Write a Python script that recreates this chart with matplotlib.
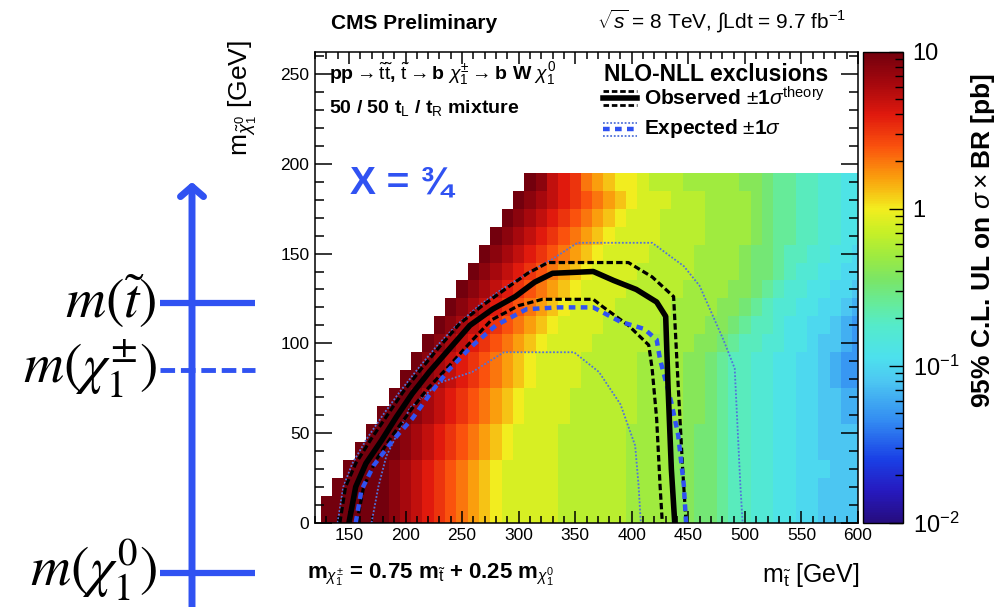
import numpy as np
import matplotlib
matplotlib.use('Agg')
import matplotlib.pyplot as plt
from matplotlib.colors import LinearSegmentedColormap, LogNorm
from matplotlib.ticker import MultipleLocator

plt.rcParams['font.family'] = ['Liberation Sans', 'DejaVu Sans']
plt.rcParams['mathtext.fontset'] = 'custom'
plt.rcParams['mathtext.rm'] = 'Liberation Sans'
plt.rcParams['mathtext.it'] = 'Liberation Sans:italic'
plt.rcParams['mathtext.bf'] = 'Liberation Sans:bold'

# 95% CL upper limit per 10 GeV cell, one letter per cell
# A = 10^-1.5 pb, P = 1 pb, Z = 10 pb (0.1 in log10 per letter), '.' = forbidden
stop_mass = np.arange(120, 601, 10)
lsp_mass = np.arange(0, 191, 10)
limit_rows = [
    ".ZZZZZZYXWVUTSRQPOOOOONNNNNNMMMMLLKKJIIHHGGFFEEEE",
    ".ZZZZZZYXWVUTSRQPOOOOONNNNNNMMMMLLKKJIIHHGGFFEEEE",
    "..ZZZZZYXWVUTSRQPOOOOONNNNNNMMMMLLKKJIIHHGGFFEEEE",
    "...ZZZZYXWVUTSRQPOOOOONNNNNNMMMMLLKKJIIHHGGFFFEEE",
    "....ZZZZYXWVUTSRQPOOOONNNNNNMMMMLLKKJIIHHGGFFEEEE",
    ".....ZZZYXWVUTSRQPOOOONNNNNNMMMMLLKKJIIHHGGFFEEEE",
    "......ZZZYXWVUTSRQPOOOONNNNNNMMMMLLKJIIHHGGFFEEDD",
    ".......ZZYXWVUTSRQPOOOONNNNNNMMMMLLKJIIHHGGFFEEDD",
    "........ZZYXWVUTSRQPOOOONNNNNMMMMLLKJIIHHGGFFEDCC",
    ".........ZYXWVUTSRQPOOOONNNNNMMMMLLKJIIHHGGFFEDCC",
    "..........ZYXWVUTSRQPOOOONNNNNMMMMLLKJIIHHGGFEEDC",
    "...........ZYXWVUTSRQPOOOONNNNNMMMMLLKJIIHGGFFEDC",
    "............ZYXWVUTSRQPOOOONNNNNMMMMLLKJIHHGGFFED",
    ".............ZYXWVUTSRQPOOOONNNNNMMMMLLKJIHHGGFFE",
    "..............ZYXWVUTSRQPOOOONNNNNMMMMLKKJIHHGGFF",
    "...............ZYXWVUTSRQPOOOONNNNMMMMLKKJIIHHGGF",
    "................ZYXWVUTSRQPOOOONNNNMMMMLKJJIIHHGG",
    ".................ZYXWVUTSRQPOOONNNNMMMMLKJJIIHHGG",
    "..................ZYXWVUTSRQPOOONNNMMMMLKJJIIHHGG",
    "...................ZYWVUSRQPPONNNMMMMMLLKJJIIHHGG",
]

# exclusion contours (m_stop, m_lsp) in GeV
obs_x = [150, 156, 165, 179, 192, 206, 221, 239, 257, 277, 297, 314, 330, 366, 384, 404, 422, 430, 432, 435, 438]
obs_y = [0, 20, 33, 46, 59, 72, 84, 97, 110, 119, 126, 134, 139, 140, 135, 130, 123, 115, 77, 30, 0]
obs_up_x = [142, 147, 156, 170, 184, 198, 213, 230, 248, 268, 290, 308, 326, 366, 397, 418, 437, 441, 445, 448]
obs_up_y = [0, 20, 33, 47, 60, 73, 85, 98, 111, 121, 131, 139, 145, 145, 145, 137, 126, 77, 30, 0]
obs_dn_x = [157, 163, 174, 190, 205, 220, 238, 258, 276, 300, 321, 366, 373, 397, 415, 418, 422, 425, 427]
obs_dn_y = [0, 20, 35, 50, 63, 75, 87, 101, 113, 121, 124.5, 124.5, 121, 110, 99, 86, 58, 21, 0]
exp_x = [156, 161, 172, 189, 206, 222, 238, 258, 280, 307, 335, 366, 390, 411, 422, 425, 435, 441, 446, 448]
exp_y = [0, 18, 32, 46, 58, 72, 85, 98, 110, 119, 120, 120, 112, 108, 102, 91, 67, 49, 21, 0]
exp_up_x = [140, 145, 153, 166, 180, 195, 210, 227, 245, 265, 285, 310, 330, 352, 418, 446, 460, 481, 491, 496, 498]
exp_up_y = [0, 20, 33, 47, 60, 73, 85, 98, 110, 121, 130, 140, 147, 156, 156, 143, 132, 102, 86, 21, 0]
exp_dn_x = [170, 176, 183, 204, 230, 259, 287, 349, 371, 390, 403, 406, 408]
exp_dn_y = [0, 20, 37, 64, 78, 84, 95, 95, 84, 66, 43, 21, 0]

blue = (0.19, 0.32, 0.95)
dotblue = (0.32, 0.45, 0.85)

grid = np.array([[np.nan if c == '.' else 10 ** (-1.5 + 0.1 * (ord(c) - 65)) for c in row]
                 for row in limit_rows])

stops = [(-2.0, (0.15, 0.05, 0.50)), (-1.8, (0.15, 0.10, 0.75)), (-1.6, (0.10, 0.25, 0.90)),
         (-1.35, (0.20, 0.55, 0.95)), (-1.1, (0.30, 0.78, 0.95)), (-0.95, (0.30, 0.88, 0.93)),
         (-0.75, (0.33, 0.92, 0.80)), (-0.6, (0.40, 0.92, 0.60)), (-0.45, (0.48, 0.90, 0.40)),
         (-0.3, (0.62, 0.92, 0.25)), (-0.15, (0.78, 0.94, 0.15)), (0.0, (0.95, 0.93, 0.12)),
         (0.2, (0.98, 0.62, 0.05)), (0.4, (0.98, 0.32, 0.05)), (0.6, (0.88, 0.10, 0.05)),
         (0.8, (0.65, 0.03, 0.05)), (1.0, (0.45, 0.00, 0.05))]
cmap = LinearSegmentedColormap.from_list('root', [((v + 2) / 3, c) for v, c in stops])

fig = plt.figure(figsize=(10, 6.07), dpi=100)
ax = fig.add_axes([0.315, 0.1389, 0.543, 0.7759])

xe = np.append(stop_mass - 5, stop_mass[-1] + 5)
ye = np.append(lsp_mass - 5, lsp_mass[-1] + 5)
mesh = ax.pcolormesh(xe, ye, grid, cmap=cmap, norm=LogNorm(0.01, 10), antialiased=False, zorder=0)

ax.plot(exp_up_x, exp_up_y, color=dotblue, lw=1.3, ls=(0, (1, 1)))
ax.plot(exp_dn_x, exp_dn_y, color=dotblue, lw=1.3, ls=(0, (1, 1)))
ax.plot(obs_up_x, obs_up_y, color='k', lw=2.3, ls=(0, (2, 1)))
ax.plot(obs_dn_x, obs_dn_y, color='k', lw=2.3, ls=(0, (2, 1)))
ax.plot(exp_x, exp_y, color=blue, lw=3.2, ls=(0, (1.5, 1.2)))
ax.plot(obs_x, obs_y, color='k', lw=4)

ax.set_xlim(120, 600)
ax.set_ylim(0, 262.5)
ax.xaxis.set_major_locator(MultipleLocator(50))
ax.xaxis.set_minor_locator(MultipleLocator(10))
ax.yaxis.set_major_locator(MultipleLocator(50))
ax.yaxis.set_minor_locator(MultipleLocator(10))
ax.tick_params(axis='x', which='major', direction='in', length=8.6, width=1.1, top=True, labelsize=12.5, pad=4)
ax.tick_params(axis='x', which='minor', direction='in', length=4.7, width=1.1, top=True)
ax.tick_params(axis='y', which='major', direction='in', length=12, width=1.1, right=True, labelsize=12.5, pad=4)
ax.tick_params(axis='y', which='minor', direction='in', length=6.5, width=1.1, right=True)
for s in ax.spines.values():
    s.set_linewidth(1.1)

cax = fig.add_axes([0.863, 0.1389, 0.040, 0.7759])
cb = fig.colorbar(mesh, cax=cax)
cb.outline.set_linewidth(1)
cb.set_ticks([0.01, 0.1, 1, 10])
cb.set_ticklabels(['10$^{-2}$', '10$^{-1}$', '1', '10'])
cax.tick_params(which='major', direction='in', length=10, width=1, labelsize=17, pad=7)
cax.tick_params(which='minor', direction='in', length=6, width=1)
fig.text(0.983, 1 - 240 / 607, r'95% C.L. UL on $\sigma\times$BR [pb]', rotation=90, fontweight='bold',
         fontsize=19, ha='center', va='center')

fig.text(0.331, 1 - 29 / 607, 'CMS Preliminary', fontsize=15, fontweight='bold', va='baseline')
fig.text(0.597, 1 - 29 / 607, r'$\sqrt{s}$ = 8 TeV, $\int$Ldt = 9.7 fb$^{-1}$', fontsize=15, va='baseline')

ax.text(0.025, 0.953, r'pp$\rightarrow\tilde{\rm t}\tilde{\rm t}$, $\tilde{\rm t}\rightarrow$b $\chi^{\pm}_{1}\rightarrow$b W $\chi^{0}_{1}$',
        transform=ax.transAxes, fontsize=14, fontweight='bold', va='center')
ax.text(0.025, 0.880, r'50 / 50 t$_{\rm L}$ / t$_{\rm R}$ mixture', transform=ax.transAxes,
        fontsize=14, fontweight='bold', va='center')
ax.text(0.533, 0.952, 'NLO-NLL exclusions', transform=ax.transAxes, fontsize=16.5, fontweight='bold', va='center')
ax.text(0.605, 0.902, r'Observed $\pm$1$\sigma^{\rm theory}$', transform=ax.transAxes, fontsize=15,
        fontweight='bold', va='center')
ax.text(0.605, 0.836, r'Expected $\pm$1$\sigma$', transform=ax.transAxes, fontsize=15,
        fontweight='bold', va='center')
ax.text(0.064, 0.72, 'X = ¾', transform=ax.transAxes, fontsize=28, fontweight='bold', color=blue, va='center')

fig.text(0.307, 1 - 575 / 607, r'm$_{\chi^{\pm}_{1}}$ = 0.75 m$_{\tilde{\rm t}}$ + 0.25 m$_{\chi^{0}_{1}}$',
         fontsize=16, fontweight='bold', va='center')
fig.text(0.860, 1 - 575 / 607, r'm$_{\tilde{\rm t}}$ [GeV]', fontsize=18, ha='right', va='center')
fig.text(0.243, 1 - 40 / 607, r'm$_{\tilde{\chi}^{0}_{1}}$ [GeV]', fontsize=19, rotation=90, ha='center', va='top')

# overlay in pixel coordinates for the level diagram and legend symbols
ov = fig.add_axes([0, 0, 1, 1], facecolor='none')
ov.set_xlim(0, 1000)
ov.set_ylim(607, 0)
ov.axis('off')

ov.plot([603, 637], [91, 91], color='k', lw=2, ls=(0, (2, 1)))
ov.plot([603, 637], [98, 98], color='k', lw=4)
ov.plot([603, 637], [105, 105], color='k', lw=2, ls=(0, (2, 1)))
ov.plot([603, 637], [123, 123], color=dotblue, lw=1.3, ls=(0, (1, 1)))
ov.plot([603, 637], [129, 129], color=blue, lw=3.2, ls=(0, (1.5, 1.2)))
ov.plot([603, 637], [136, 136], color=dotblue, lw=1.3, ls=(0, (1, 1)))

ov.annotate('', xy=(192, 182), xytext=(192, 615), annotation_clip=False,
            arrowprops=dict(arrowstyle='->,head_length=0.72,head_width=0.83', lw=5, color=blue,
                            shrinkA=0, shrinkB=0))
ov.plot([160, 255], [303, 303], color=blue, lw=4.5, solid_capstyle='butt')
ov.plot([160, 255], [370, 370], color=blue, lw=3.5, ls=(0, (3, 1.2)))
ov.plot([160, 255], [573, 573], color=blue, lw=4.5, solid_capstyle='butt')
ov.text(157, 318, r'$m(\tilde{t})$', math_fontfamily='stix', fontsize=40, ha='right', va='baseline')
ov.text(157, 383, r'$m(\chi_1^{\pm})$', math_fontfamily='stix', fontsize=40, ha='right', va='baseline')
ov.text(157, 586, r'$m(\chi_1^{0})$', math_fontfamily='stix', fontsize=40, ha='right', va='baseline')

fig.savefig('out.png', dpi=100)
